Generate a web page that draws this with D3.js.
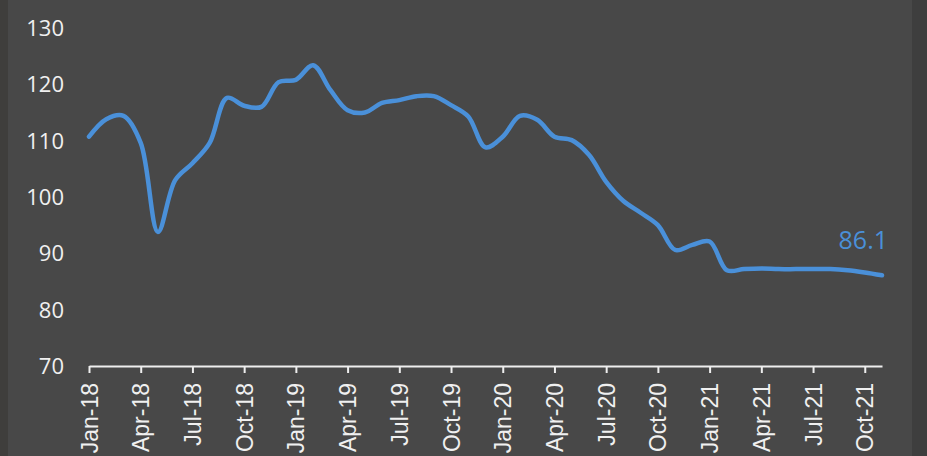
<!DOCTYPE html>
<html>
<head>
<meta charset="utf-8">
<script src="https://cdn.jsdelivr.net/npm/d3@7"></script>
<style>
  html, body { margin: 0; padding: 0; background: #484848; }
  svg { display: block; font-family: "Open Sans", "Noto Sans", sans-serif; }
</style>
</head>
<body>
<svg id="chart" width="927" height="456"></svg>
<script>
const months = [
  'Jan-18','Feb-18','Mar-18','Apr-18','May-18','Jun-18','Jul-18','Aug-18','Sep-18','Oct-18','Nov-18','Dec-18',
  'Jan-19','Feb-19','Mar-19','Apr-19','May-19','Jun-19','Jul-19','Aug-19','Sep-19','Oct-19','Nov-19','Dec-19',
  'Jan-20','Feb-20','Mar-20','Apr-20','May-20','Jun-20','Jul-20','Aug-20','Sep-20','Oct-20','Nov-20','Dec-20',
  'Jan-21','Feb-21','Mar-21','Apr-21','May-21','Jun-21','Jul-21','Aug-21','Sep-21','Oct-21','Nov-21'
]

const values = [
  110.7, 113.8, 114.4, 109.6, 93.8, 103.0, 106.0, 109.6, 117.6, 116.2, 116.0, 120.4,
  120.8, 123.4, 119.0, 115.4, 115.0, 116.7, 117.2, 117.9, 117.9, 116.3, 114.3, 108.8,
  110.7, 114.4, 113.7, 110.7, 110.1, 107.5, 102.7, 99.3, 97.2, 95.0, 90.6, 91.5,
  92.1, 87.0, 87.2, 87.3, 87.2, 87.2, 87.2, 87.2, 87.0, 86.6, 86.1
]

const yTicks = [70, 80, 90, 100, 110, 120, 130]
const endLabel = '86.1'

const W = 927, H = 456
const MARGINS = { top: 28, left: 89, bottom: 90, right: 45 }

const svg = d3.select('#chart')

// background with darker edge strips
svg.append('rect').attr('width', W).attr('height', H).attr('fill', '#484848')
svg.append('rect').attr('width', 8).attr('height', H).attr('fill', '#3f3e3c')
svg.append('rect').attr('x', 912).attr('width', W - 912).attr('height', H).attr('fill', '#3e3e3e')

const x = d3.scalePoint()
  .domain(months)
  .range([MARGINS.left, W - MARGINS.right])

const y = d3.scaleLinear()
  .domain([70, 130])
  .range([H - MARGINS.bottom, MARGINS.top])

// y labels (no axis line)
svg.append('g')
  .attr('font-size', 22)
  .attr('fill', '#f0f0f0')
  .attr('text-anchor', 'end')
  .selectAll('text')
  .data(yTicks)
  .join('text')
    .attr('x', 64)
    .attr('y', d => y(d))
    .attr('dy', '0.36em')
    .text(d => d)

// x axis
const xAxis = d3.axisBottom(x)
  .tickValues(months.filter((m, i) => i % 3 === 0))
  .tickSize(7)
  .tickSizeOuter(0)
  .tickPadding(0)

const gx = svg.append('g')
  .attr('transform', 'translate(0,' + y(70) + ')')
  .call(xAxis)

gx.select('.domain').attr('stroke', '#eeeeee').attr('stroke-width', 2)
gx.selectAll('.tick line').attr('stroke', '#eeeeee').attr('stroke-width', 2)
gx.selectAll('.tick text')
  .attr('fill', '#f0f0f0')
  .attr('font-size', 23)
  .attr('text-anchor', 'end')
  .attr('transform', 'rotate(-90)')
  .attr('x', -17)
  .attr('y', 0)
  .attr('dy', '0.35em')

// line
const line = d3.line()
  .x((d, i) => x(months[i]))
  .y(d => y(d))
  .curve(d3.curveCatmullRom.alpha(0.5))

svg.append('path')
  .datum(values)
  .attr('fill', 'none')
  .attr('stroke', '#4a90d9')
  .attr('stroke-width', 4.5)
  .attr('stroke-linejoin', 'round')
  .attr('stroke-linecap', 'round')
  .attr('d', line)

// end label
svg.append('text')
  .attr('x', x(months[months.length - 1]) + 6)
  .attr('y', y(values[values.length - 1]) - 26)
  .attr('text-anchor', 'end')
  .attr('font-size', 25)
  .attr('fill', '#4a90d9')
  .text(endLabel)
</script>
</body>
</html>
